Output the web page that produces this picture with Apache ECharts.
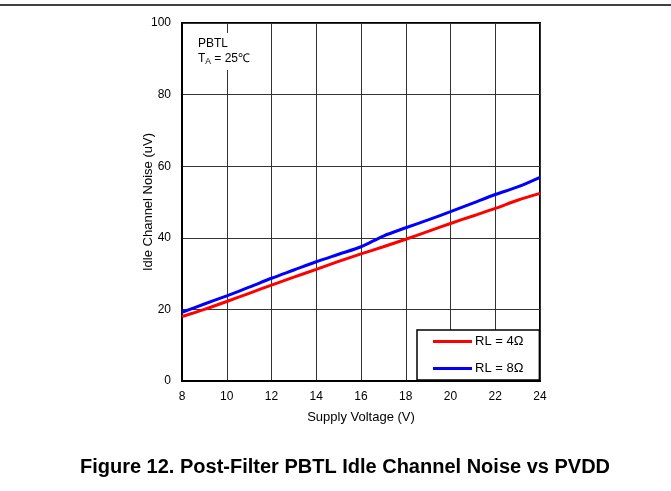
<!DOCTYPE html>
<html><head><meta charset="utf-8">
<script src="https://cdn.jsdelivr.net/npm/echarts@6/dist/echarts.min.js"></script>
<style>html,body{margin:0;padding:0;background:#fff}#c{width:671px;height:491px}</style>
</head><body><div id="c"></div>
<script>
const voltage = [8, 9, 10, 11, 12, 13, 14, 15, 16, 17, 18, 19, 20, 21, 22, 23, 24];
const rl4 = [18.0, 20.0, 22.2, 24.5, 26.8, 29.0, 31.2, 33.4, 35.5, 37.5, 39.6, 41.8, 44.0, 46.1, 48.2, 50.5, 52.4];
const rl8 = [19.2, 21.5, 23.8, 26.2, 28.7, 31.0, 33.3, 35.4, 37.5, 40.5, 42.8, 45.0, 47.3, 49.7, 52.1, 54.2, 56.9];
const seriesNames = ['RL = 4\u03A9', 'RL = 8\u03A9'];
const xTicks = [8, 10, 12, 14, 16, 18, 20, 22, 24];
const yTicks = [0, 20, 40, 60, 80, 100];

const font = 'Liberation Sans, Arial, sans-serif';
const chart = echarts.init(document.getElementById('c'), null, {renderer: 'canvas'});
chart.setOption({
  animation: false,
  backgroundColor: '#fff',
  title: {
    text: 'Figure 12. Post-Filter PBTL Idle Channel Noise vs PVDD',
    left: 340, top: 452, textAlign: 'center',
    textStyle: {fontFamily: font, fontSize: 20, fontWeight: 'bold', color: '#000'}
  },
  grid: {left: 182, right: 131, top: 23, bottom: 110, show: true, borderColor: '#000', borderWidth: 2, backgroundColor: 'transparent'},
  xAxis: {
    type: 'value', min: xTicks[0], max: xTicks[xTicks.length - 1], interval: 2,
    name: 'Supply Voltage (V)', nameLocation: 'middle', nameGap: 30, nameMoveOverlap: false,
    nameTextStyle: {fontFamily: font, fontSize: 13, color: '#000'},
    axisLine: {show: true, lineStyle: {color: '#000', width: 2}},
    axisTick: {show: false},
    axisLabel: {fontFamily: font, fontSize: 12, color: '#000', margin: 10},
    splitLine: {show: true, lineStyle: {color: '#333', width: 1}}
  },
  yAxis: {
    type: 'value', min: yTicks[0], max: yTicks[yTicks.length - 1], interval: 20,
    name: 'Idle Channel Noise (uV)', nameLocation: 'middle', nameGap: 27, nameMoveOverlap: false,
    nameTextStyle: {fontFamily: font, fontSize: 13, color: '#000'},
    axisLine: {show: true, lineStyle: {color: '#000', width: 2}},
    axisTick: {show: false},
    axisLabel: {fontFamily: font, fontSize: 12, color: '#000', margin: 11},
    splitLine: {show: true, lineStyle: {color: '#333', width: 1}}
  },
  legend: {
    left: 417, top: 330, orient: 'vertical',
    backgroundColor: '#fff', borderColor: '#000', borderWidth: 1.5, borderRadius: 0,
    padding: [5, 16, 5, 16],
    itemGap: 14, itemWidth: 39, itemHeight: 3, icon: 'rect',
    textStyle: {fontFamily: font, fontSize: 13, color: '#000', padding: [0, 0, 0, -2]},
    data: seriesNames
  },
  graphic: [
    {type: 'line', shape: {x1: 0, y1: 5, x2: 671, y2: 5}, style: {stroke: '#000', lineWidth: 1.5}},
    {type: 'rect', shape: {x: 186, y: 33, width: 72, height: 37}, style: {fill: '#fff'}, z: 10},
    {type: 'text', left: 198, top: 36, z: 11,
     style: {text: 'PBTL\n{t|T}{s|A}{t| = 25\u2103}', fontFamily: font, fontSize: 12, fill: '#000', lineHeight: 15,
       rich: {t: {fontFamily: font, fontSize: 12, fill: '#000'}, s: {fontFamily: font, fontSize: 8.5, fill: '#000', verticalAlign: 'bottom', padding: [6, 0, 0, 0]}}}}
  ],
  series: [
    {name: seriesNames[0], type: 'line', data: voltage.map((v, i) => [v, rl4[i]]), showSymbol: false, smooth: 0.3,
     lineStyle: {color: '#ff0000', width: 3}, itemStyle: {color: '#ff0000'}, z: 3},
    {name: seriesNames[1], type: 'line', data: voltage.map((v, i) => [v, rl8[i]]), showSymbol: false, smooth: 0.3,
     lineStyle: {color: '#0000ff', width: 3}, itemStyle: {color: '#0000ff'}, z: 3}
  ]
});
</script></body></html>
